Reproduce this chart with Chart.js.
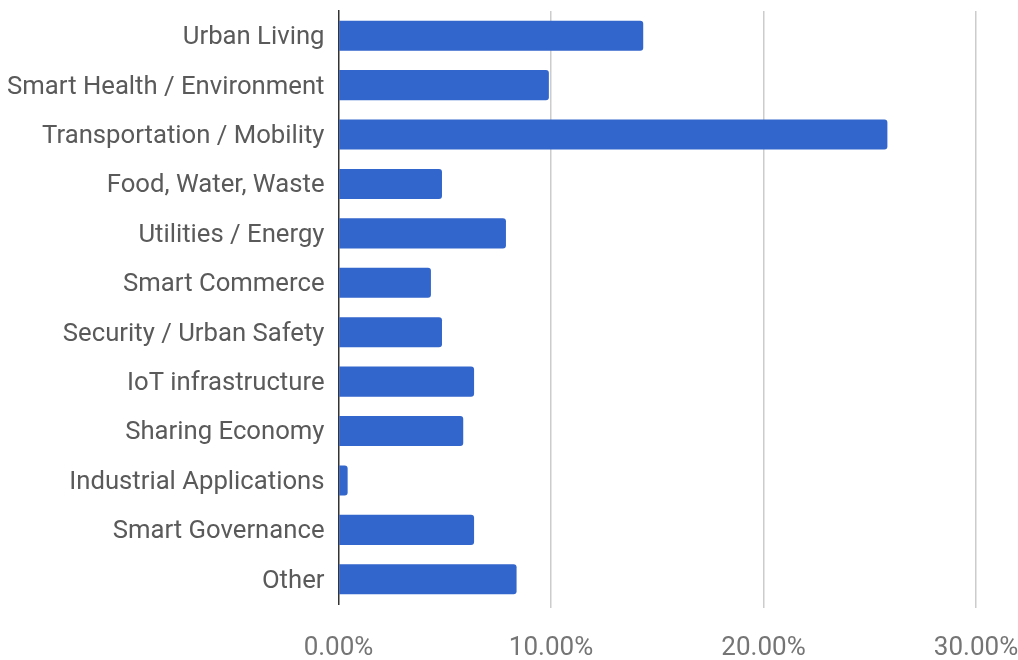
<!DOCTYPE html>
<html>
<head>
<meta charset="utf-8">
<script src="https://cdn.jsdelivr.net/npm/chart.js@4/dist/chart.umd.min.js"></script>
<style>
html,body{margin:0;padding:0;background:#fff;}
#wrap{width:1018px;height:660px;position:relative;}
</style>
</head>
<body>
<div id="wrap"><canvas id="c" width="1018" height="660"></canvas></div>
<script>
const categories = ["Urban Living","Smart Health / Environment","Transportation / Mobility","Food, Water, Waste","Utilities / Energy","Smart Commerce","Security / Urban Safety","IoT infrastructure","Sharing Economy","Industrial Applications","Smart Governance","Other"];
const shares = [14.34, 9.9, 25.83, 4.87, 7.88, 4.35, 4.87, 6.38, 5.87, 0.43, 6.38, 8.38];
const tickValues = [0, 10, 20, 30];

new Chart(document.getElementById('c'), {
  type: 'bar',
  data: {
    labels: categories,
    datasets: [{
      data: shares,
      backgroundColor: '#3366cc',
      borderRadius: 3,
      borderSkipped: 'start',
      barPercentage: 0.61,
      categoryPercentage: 1.0
    }]
  },
  options: {
    indexAxis: 'y',
    responsive: false,
    animation: false,
    layout: { padding: { top: 11, bottom: 0, left: 0, right: 42 } },
    plugins: { legend: { display: false }, tooltip: { enabled: false } },
    scales: {
      x: {
        min: 0, max: 30,
        afterBuildTicks: (s) => { s.ticks = tickValues.map(v => ({ value: v })); },
        grid: { color: (ctx) => ctx.tick && ctx.tick.value === 0 ? 'rgba(0,0,0,0)' : '#cccccc', lineWidth: 1.5, drawTicks: true, tickLength: 4 },
        border: { display: false },
        ticks: {
          padding: 25,
          color: '#757575',
          font: { family: 'Roboto', size: 26 },
          callback: (v) => v.toFixed(2) + '%',
          maxRotation: 0
        },
        afterFit: (s) => { s.height = 56; s.paddingLeft = 0; s.paddingRight = 0; }
      },
      y: {
        grid: { display: false },
        border: { display: true, color: '#333333', width: 1.5 },
        ticks: {
          padding: 6,
          labelOffset: 2,
          color: '#5a5a5a',
          font: { family: 'Roboto', size: 25.7 },
          autoSkip: false
        },
        afterFit: (s) => { s.width = 338.5; s.paddingTop = 0; s.paddingBottom = 0; }
      }
    }
  }
});
</script>
</body>
</html>
